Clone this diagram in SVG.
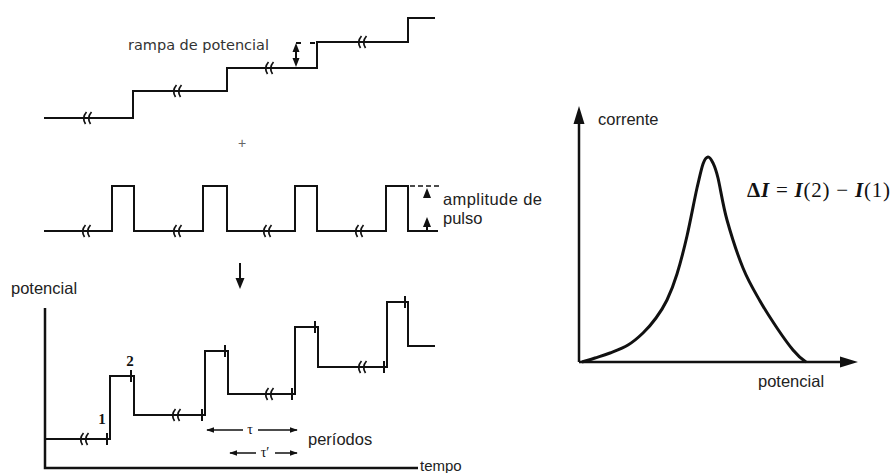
<svg xmlns="http://www.w3.org/2000/svg" width="892" height="473" viewBox="0 0 892 473">
<style>
.ln{fill:none;stroke:#111;stroke-width:2;stroke-linejoin:miter}
.ax{fill:none;stroke:#111;stroke-width:2.5}
.brk{fill:none;stroke:#111;stroke-width:1.7}
.tk{stroke:#111;stroke-width:2}
.sans{font-family:"Liberation Sans",Arial,sans-serif;font-size:16.5px;fill:#222}
.serif{font-family:"Liberation Serif","Times New Roman",serif;fill:#111}
.hd{fill:#111}
</style>
<defs>
<g id="b"><path class="brk" d="M-1.5,-6 C-5,-2 -5,2 -2.5,6 M3.5,-6 C0,-2 0,2 2.5,6"/></g>
<line id="t" class="tk" x1="0" y1="-6" x2="0" y2="6"/>
<marker id="ah" viewBox="0 0 10 10" refX="9" refY="5" markerWidth="8" markerHeight="8" markerUnits="userSpaceOnUse" orient="auto-start-reverse"><path d="M0,1.5 L10,5 L0,8.5z" fill="#111"/></marker>
</defs>
<rect width="892" height="473" fill="#fff"/>

<g id="ramp">
<path class="ln" d="M44,118 H133 V91 H227 V68 H317 V42 H408 V18 H435"/>
<use href="#b" x="88" y="118"/><use href="#b" x="178" y="91"/><use href="#b" x="270" y="68"/><use href="#b" x="363" y="42"/>
<path class="tk" d="M296,43 H301 M310,43 H315" stroke-width="1.5"/>
<line class="tk" x1="296" y1="48" x2="296" y2="62" stroke-width="1.5"/>
<path class="hd" d="M296,43 L299.5,52 L292.5,52z M296,67 L299.5,58 L292.5,58z"/>
<text x="128" y="50" style="font-family:'DejaVu Sans',sans-serif;font-size:14.5px;fill:#333" textLength="141">rampa de potencial</text>
</g>

<text x="242" y="148" text-anchor="middle" style="font-family:'Liberation Sans',sans-serif;font-size:14px;fill:#666">+</text>

<g id="pulses">
<path class="ln" d="M44,231 H112 V186 H134 V231 H203 V186 H227 V231 H295 V186 H317 V231 H386 V186 H408 V231 H438"/>
<use href="#b" x="87" y="231"/><use href="#b" x="178" y="231"/><use href="#b" x="268" y="231"/><use href="#b" x="360" y="231"/>
<line x1="410" y1="186" x2="441" y2="186" stroke="#111" stroke-width="1.5" stroke-dasharray="5,3"/>
<path class="hd" d="M427,188 L431,198 L423,198z M427,217 L431,227 L423,227z"/>
<line class="tk" x1="427" y1="226" x2="427" y2="231"/>
<text class="sans" x="443" y="205" textLength="99">amplitude de</text>
<text class="sans" x="443" y="224">pulso</text>
</g>

<g id="connectors">
<line class="ln" x1="240" y1="263" x2="240" y2="280"/>
<path class="hd" d="M240,289 L235.5,278 L244.5,278z"/>
</g>

<g id="result">
<path class="ax" d="M45,308 V468 H418"/>
<path class="ln" d="M45,439 H110 V376 H134 V415 H205 V351 H228 V394 H295 V327 H318 V367 H387 V302 H408 V346 H435"/>
<use href="#b" x="85" y="439"/><use href="#b" x="177" y="415"/><use href="#b" x="270" y="394"/><use href="#b" x="363" y="367"/>
<use href="#t" x="107" y="439"/><use href="#t" x="131" y="376"/><use href="#t" x="202" y="415"/><use href="#t" x="225" y="351"/>
<use href="#t" x="292" y="394"/><use href="#t" x="315" y="327"/><use href="#t" x="384" y="367"/><use href="#t" x="405" y="302"/>
<text class="serif" x="102" y="424" text-anchor="middle" style="font-size:15px;font-weight:bold">1</text>
<text class="serif" x="130" y="366" text-anchor="middle" style="font-size:15px;font-weight:bold">2</text>
<text class="sans" x="11" y="294">potencial</text>
<text class="sans" x="420" y="471" style="font-size:15px">tempo</text>
<line x1="243" y1="430" x2="207" y2="430" stroke="#111" stroke-width="1.5" marker-end="url(#ah)"/>
<line x1="258" y1="430" x2="297" y2="430" stroke="#111" stroke-width="1.5" marker-end="url(#ah)"/>
<text class="serif" x="250" y="434" text-anchor="middle" style="font-size:14px">τ</text>
<line x1="256" y1="453" x2="230" y2="453" stroke="#111" stroke-width="1.5" marker-end="url(#ah)"/>
<line x1="275" y1="453" x2="297" y2="453" stroke="#111" stroke-width="1.5" marker-end="url(#ah)"/>
<text class="serif" x="265" y="457" text-anchor="middle" style="font-size:14px">τ′</text>
<text class="sans" x="308" y="445">períodos</text>
</g>

<g id="current-plot">
<path class="ax" d="M579,362 V122 M579,362 H842"/>
<path class="hd" d="M579,106 L584.5,124 L573.5,124z M858,362 L840,356.5 L840,367.5z"/>
<path fill="none" stroke="#111" stroke-width="3" stroke-linejoin="round" d="M582,362 C584.2,361.3 590.3,359.5 595,358 C599.7,356.5 604.5,355.2 610,353 C615.5,350.8 622.5,348.3 628,345 C633.5,341.7 638.3,337.5 643,333 C647.7,328.5 652,323.5 656,318 C660,312.5 663.5,307.3 667,300 C670.5,292.7 673.7,284.7 677,274 C680.3,263.3 683.7,250.3 687,236 C690.3,221.7 694.3,200 697,188 C699.7,176.7 701.2,169.2 703,164 C704.8,158.8 706.3,157.2 708,157 C709.7,156.8 711.3,159.5 713,163 C714.7,166.5 715.7,168.5 718,178 C720.3,187.5 722.8,205 727,220 C731.2,235 737.5,254.5 743,268 C748.5,281.5 754.3,291 760,301 C765.7,311 771.5,319.8 777,328 C782.5,336.2 788.3,344.3 793,350 C797.7,355.7 803,360 806,362"/>
<text class="sans" x="598" y="125">corrente</text>
<text class="sans" x="758" y="387">potencial</text>
<text class="serif" x="747" y="197" style="font-size:21px" textLength="143"><tspan font-weight="bold">Δ</tspan><tspan font-weight="bold" font-style="italic">I</tspan> = <tspan font-weight="bold" font-style="italic">I</tspan>(2) − <tspan font-weight="bold" font-style="italic">I</tspan>(1)</text>
</g>
</svg>
